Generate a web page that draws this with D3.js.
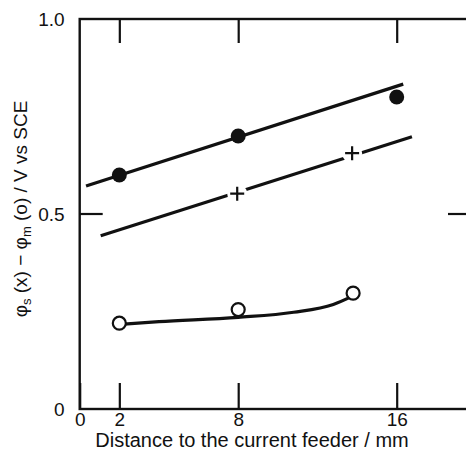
<!DOCTYPE html>
<html>
<head>
<meta charset="utf-8">
<script src="https://cdn.jsdelivr.net/npm/d3@7"></script>
<style>
  body { margin: 0; background: #fff; }
  text { font-family: "Liberation Sans", Arial, sans-serif; fill: #111; }
</style>
</head>
<body>
<div id="chart"></div>
<script>
// data
var filledX = [2, 8, 16];
var filledY = [0.60, 0.70, 0.80];
var filledFit = [[0.32, 0.572], [16.33, 0.833]];

var plusX = [7.95, 13.75];
var plusY = [0.552, 0.656];
var plusFit = [[1.06, 0.444], [16.77, 0.698]];

var openX = [2, 8, 13.8];
var openY = [0.22, 0.255, 0.297];
var openCurve = [[2, 0.217], [4, 0.224], [8, 0.235], [10.8, 0.248], [12.8, 0.268], [13.8, 0.29]];

var xTicks = [0, 2, 8, 16];
var yTicks = [0, 0.5, 1.0];
var yTickLabels = ["0", "0.5", "1.0"];

var width = 466, height = 452;
var svg = d3.select("#chart").append("svg")
    .attr("width", width)
    .attr("height", height);

var x = d3.scaleLinear().domain([0, 19.7]).range([79.7, 470]);
var y = d3.scaleLinear().domain([0, 1]).range([409, 19]);

// frame
svg.append("rect")
    .attr("x", x(0)).attr("y", y(1))
    .attr("width", x(19.7) - x(0)).attr("height", y(0) - y(1))
    .attr("fill", "none").attr("stroke", "#111").attr("stroke-width", 2.4);

// ticks inside the frame
var tickStyle = function(g) {
  g.select(".domain").remove();
  g.selectAll(".tick line").attr("stroke", "#111").attr("stroke-width", 2.2);
};

svg.append("g")
    .attr("transform", "translate(0," + y(0) + ")")
    .call(d3.axisBottom(x).tickValues(xTicks).tickSizeInner(-26).tickSizeOuter(0).tickFormat(d3.format("d")))
    .call(tickStyle)
    .call(g => g.selectAll(".tick text").attr("font-size", 19).attr("fill", "#111").attr("y", 17).attr("dy", null));

svg.append("g")
    .attr("transform", "translate(0," + y(1) + ")")
    .call(d3.axisTop(x).tickValues(xTicks.slice(1)).tickSizeInner(-24).tickSizeOuter(0).tickFormat(""))
    .call(tickStyle);

svg.append("g")
    .attr("transform", "translate(" + x(0) + ",0)")
    .call(d3.axisLeft(y).tickValues(yTicks).tickSizeInner(0).tickSizeOuter(0).tickPadding(15)
      .tickFormat((d, i) => yTickLabels[i]))
    .call(tickStyle)
    .call(g => g.selectAll(".tick text").attr("font-size", 19).attr("fill", "#111"));

// 0.5 ticks on left and right
svg.append("g").selectAll("line")
    .data([[x(0), x(0) + 23], [x(19.7) - 22, x(19.7)]])
    .join("line")
    .attr("x1", d => d[0]).attr("x2", d => d[1])
    .attr("y1", y(0.5)).attr("y2", y(0.5))
    .attr("stroke", "#111").attr("stroke-width", 2.2);

// axis titles
svg.append("text")
    .attr("x", 252).attr("y", 447)
    .attr("text-anchor", "middle").attr("font-size", 20)
    .text("Distance to the current feeder / mm");

var yt = svg.append("text")
    .attr("transform", "translate(27,209) rotate(-90)")
    .attr("text-anchor", "middle").attr("font-size", 19);
yt.append("tspan").text("φ");
yt.append("tspan").attr("font-size", 13).attr("dy", 4).text("s");
yt.append("tspan").attr("dy", -4).text(" (x) − φ");
yt.append("tspan").attr("font-size", 13).attr("dy", 4).text("m");
yt.append("tspan").attr("dy", -4).text(" (o) / V vs SCE");

var line = d3.line().x(d => x(d[0])).y(d => y(d[1]));

// fit lines
svg.append("path").datum(filledFit).attr("d", line)
    .attr("fill", "none").attr("stroke", "#111").attr("stroke-width", 3.2);
svg.append("path").datum(plusFit).attr("d", line)
    .attr("fill", "none").attr("stroke", "#111").attr("stroke-width", 3.2);
svg.append("path").datum(openCurve).attr("d", line.curve(d3.curveMonotoneX))
    .attr("fill", "none").attr("stroke", "#111").attr("stroke-width", 3.2);

// filled circles
svg.append("g").selectAll("circle")
    .data(filledX.map((d, i) => [d, filledY[i]]))
    .join("circle")
    .attr("cx", d => x(d[0])).attr("cy", d => y(d[1])).attr("r", 7.5)
    .attr("fill", "#111");

// plus markers with gaps in the line
var plus = svg.append("g").selectAll("g")
    .data(plusX.map((d, i) => [d, plusY[i]]))
    .join("g")
    .attr("transform", d => "translate(" + x(d[0]) + "," + y(d[1]) + ")");
plus.append("circle").attr("r", 10).attr("fill", "#fff");
plus.append("path").attr("d", "M-7,0H7M0,-7V7")
    .attr("stroke", "#111").attr("stroke-width", 2.2);

// open circles
svg.append("g").selectAll("circle")
    .data(openX.map((d, i) => [d, openY[i]]))
    .join("circle")
    .attr("cx", d => x(d[0])).attr("cy", d => y(d[1])).attr("r", 6.5)
    .attr("fill", "#fff").attr("stroke", "#111").attr("stroke-width", 2.2);
</script>
</body>
</html>
